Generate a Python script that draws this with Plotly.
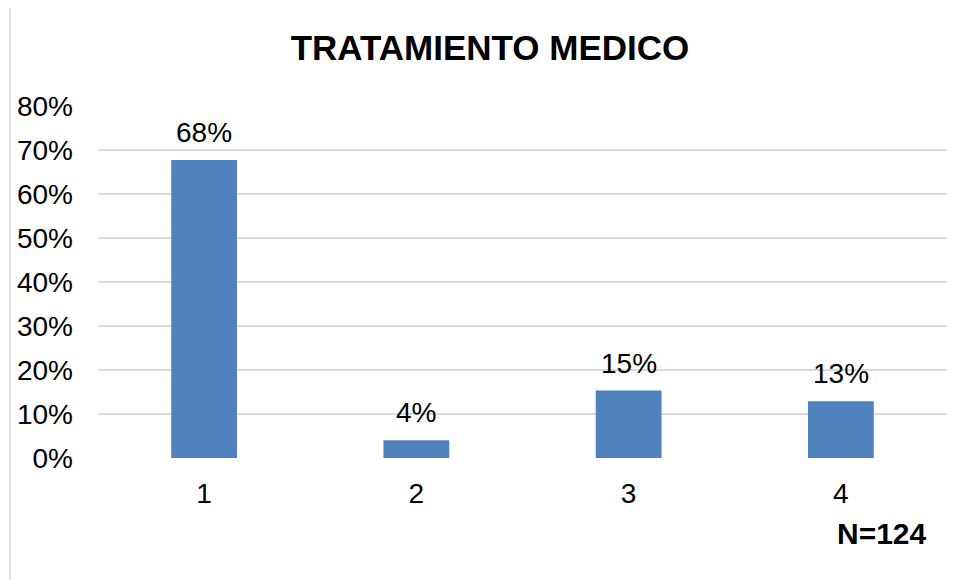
import plotly.graph_objects as go

categories = ["1", "2", "3", "4"]
counts = [84, 5, 19, 16]
total = 124
values = [c / total for c in counts]
y_ticks = [0, 0.1, 0.2, 0.3, 0.4, 0.5, 0.6, 0.7, 0.8]
y_tick_labels = ["0%", "10%", "20%", "30%", "40%", "50%", "60%", "70%", "80%"]

FONT = "Liberation Sans, Arial, sans-serif"
OFF = 8  # page body margin in the browser
W, H = 957 - OFF, 580 - OFF
# target pixel positions in the 957x580 window
PL, PR, PT, PB = 98, 947, 106, 458
ML, MR, MT, MB = PL - OFF, 957 - PR, PT - OFF, 580 - PB
PW = PR - PL
PH = PB - PT

fig = go.Figure()
fig.add_trace(go.Bar(
    x=categories, y=values,
    marker=dict(color="#4F81BD", line=dict(width=0)),
    hoverinfo="skip",
))

for i, v in enumerate(values):
    fig.add_annotation(x=i, y=v, text=f"{round(v*100)}%", showarrow=False,
                       yanchor="bottom", yshift=10,
                       font=dict(family=FONT, size=28, color="#000000"))

fig.add_annotation(xref="paper", yref="paper", x=(929 - PL) / PW, y=(PB - 533) / PH,
                   xanchor="right", yanchor="middle", text="<b>N=124</b>", showarrow=False,
                   font=dict(family=FONT, size=30, color="#000000"))

# chart border
fig.add_shape(type="rect", xref="paper", yref="paper",
              x0=(10 - PL) / PW, x1=(980 - PL) / PW,
              y0=(PB - 600) / PH, y1=(PB - 7) / PH,
              line=dict(color="#D9D9D9", width=1.5), fillcolor="rgba(0,0,0,0)", layer="below")

fig.update_layout(
    width=W, height=H,
    margin=dict(l=ML, r=MR, t=MT, b=MB, autoexpand=False),
    paper_bgcolor="white", plot_bgcolor="white",
    title=dict(text="<b>TRATAMIENTO MEDICO</b>", x=(490 - OFF) / W, xanchor="center",
               y=1 - (48 - OFF) / H, yanchor="middle",
               font=dict(family=FONT, size=35, color="#000000")),
    bargap=0.69,
    showlegend=False,
    font=dict(family=FONT, size=28, color="#000000"),
)
fig.update_xaxes(type="category", range=[-0.5, len(categories) - 0.5],
                 showgrid=False, showline=False, ticks="", zeroline=False,
                 tickfont=dict(family=FONT, size=28, color="#000000"), ticklabelstandoff=16)
fig.update_yaxes(range=[0, 0.8], tickvals=y_ticks, ticktext=y_tick_labels,
                 showgrid=True, gridcolor="#D9D9D9", gridwidth=1.5, zeroline=False,
                 showline=False, ticks="", ticklabelstandoff=24,
                 tickfont=dict(family=FONT, size=28, color="#000000"))

fig.write_html("out.html")
